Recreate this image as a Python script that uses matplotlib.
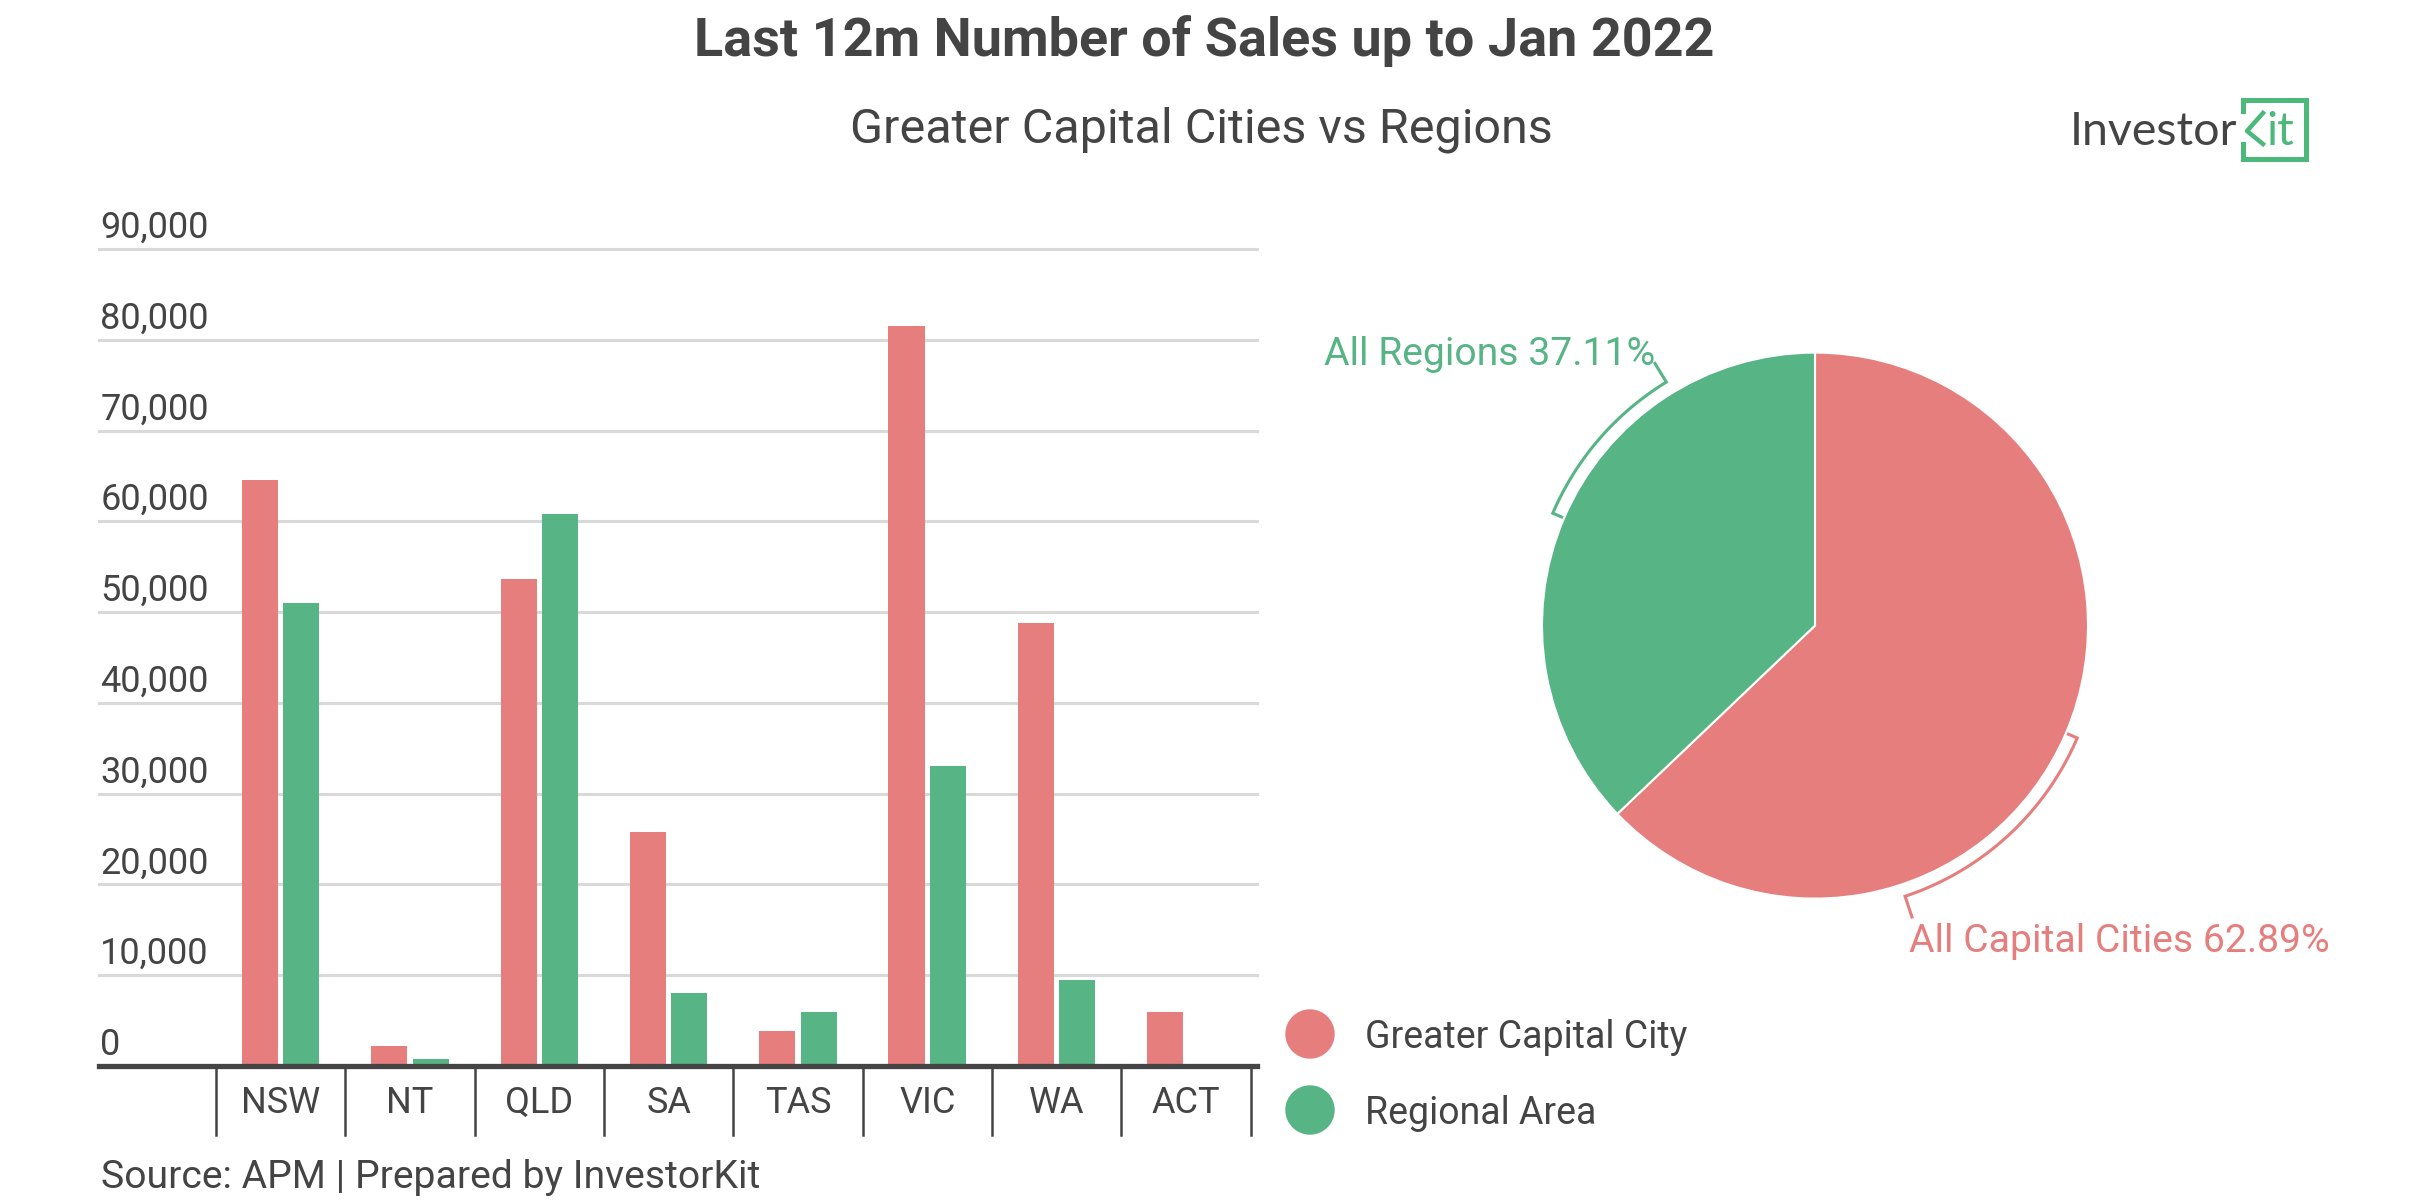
import matplotlib
matplotlib.use('Agg')
import matplotlib.pyplot as plt
import numpy as np

plt.rcParams['font.family'] = ['Roboto', 'DejaVu Sans']

##########################
##  Data               ##
##########################
states = ['NSW', 'NT', 'QLD', 'SA', 'TAS', 'VIC', 'WA', 'ACT']
capital_sales = [64600, 2200, 53700, 25800, 3900, 81500, 48800, 5900]
regional_sales = [51000, 770, 60800, 8000, 5950, 33000, 9500, 0]
y_ticks = [0, 10000, 20000, 30000, 40000, 50000, 60000, 70000, 80000, 90000]
series_names = ['Greater Capital City', 'Regional Area']
pie_names = ['All Capital Cities', 'All Regions']

RED = '#E67E7E'
GREEN = '#57B485'
LOGO_GREEN = '#4CB879'
TEXT = '#444444'
GRID = '#D9D9D9'

W, H = 2409, 1200
fig = plt.figure(figsize=(W / 100, H / 100), dpi=100)


def fx(px):
    return px / W


def fy(py):
    return 1 - py / H


# --- Titles ---
fig.text(0.5, fy(41), 'Last 12m Number of Sales up to Jan 2022', ha='center', va='center',
         fontsize=38.9, fontweight='bold', color=TEXT)
fig.text(fx(1201), fy(130), 'Greater Capital Cities vs Regions', ha='center', va='center',
         fontsize=34.9, color=TEXT)
fig.text(fx(101), fy(1177), 'Source: APM | Prepared by InvestorKit', ha='left', va='center',
         fontsize=28.2, color=TEXT)

# --- Bar chart ---
ax = fig.add_axes([fx(99), fy(1066), fx(1257 - 99), (1066 - 249) / H])
x = np.arange(len(states))
bw = 0.28
ax.bar(x - 0.16, capital_sales, bw, color=RED, zorder=2)
ax.bar(x + 0.16, regional_sales, bw, color=GREEN, zorder=2)
ax.set_xlim(-1.405, 7.55)
ax.set_ylim(0, 90000)
for s in ax.spines.values():
    s.set_visible(False)
ax.set_xticks([])
ax.set_yticks([])
for v in y_ticks[1:]:
    ax.axhline(v, color=GRID, lw=2.2, zorder=0, clip_on=False)
ax.axhline(0, color=TEXT, lw=3.8, zorder=3, clip_on=False)
for v in y_ticks:
    ax.annotate(f'{v:,}', xy=(0, v), xycoords=('axes fraction', 'data'),
                xytext=(1, 8), textcoords='offset points', ha='left', va='baseline',
                fontsize=26, color=TEXT)
for i, s in enumerate(states):
    ax.annotate(s, xy=(i, 0), xytext=(0, -34), textcoords='offset points',
                ha='center', va='baseline', fontsize=26, color=TEXT)
for b in np.arange(len(states) + 1) - 0.5:
    ax.plot([b, b], [0, -69 / 817], color=TEXT, lw=1.8, clip_on=False,
            transform=ax.get_xaxis_transform())

# --- Pie chart ---
cx, cy, rad = 1815, 625.6, 273
half = 1.5 * rad
pax = fig.add_axes([fx(cx - half), fy(cy + half), 2 * half / W, 2 * half / H])
totals = [sum(capital_sales), sum(regional_sales)]
shares = np.array(totals) / sum(totals)
pax.pie(totals, colors=[RED, GREEN], startangle=90, counterclock=False, radius=1,
        wedgeprops=dict(edgecolor='white', linewidth=1.5))
pax.set_xlim(-1.5, 1.5)
pax.set_ylim(-1.5, 1.5)
pax.set_aspect('equal')
pax.axis('off')

cap_mid = 90 - 180 * shares[0]
reg_mid = 90 - 360 * shares[0] - 180 * shares[1] + 360


def bracket(a_tick, a_lead, color):
    r_arc, r_in, r_out = 1.045, 1.01, 1.125
    ang = np.radians(np.linspace(a_tick, a_lead, 60))
    xs = [r_in * np.cos(ang[0])] + list(r_arc * np.cos(ang)) + [r_out * np.cos(ang[-1])]
    ys = [r_in * np.sin(ang[0])] + list(r_arc * np.sin(ang)) + [r_out * np.sin(ang[-1])]
    pax.plot(xs, ys, color=color, lw=2.2, clip_on=False, solid_joinstyle='miter')
    return xs[-1], ys[-1]


gx, gy = bracket(reg_mid, reg_mid - 35.4, GREEN)
pax.text(gx, gy - 0.005, f'{pie_names[1]} {shares[1] * 100:.2f}%', ha='right', va='baseline',
         fontsize=28.2, color=GREEN, clip_on=False)
rx, ry = bracket(cap_mid, cap_mid - 48.4, RED)
pax.text(rx - 0.01, ry - 0.022, f'{pie_names[0]} {shares[0] * 100:.2f}%', ha='left', va='top',
         fontsize=28.2, color=RED, clip_on=False)

# --- Overlay: legend and logo (pixel coordinates) ---
ov = fig.add_axes([0, 0, 1, 1])
ov.set_xlim(0, W)
ov.set_ylim(H, 0)
ov.axis('off')
for yy, col, name in [(1034, RED, series_names[0]), (1110, GREEN, series_names[1])]:
    ov.add_patch(plt.Circle((1310, yy), 24, color=col))
    ov.text(1365, yy + 3, name, ha='left', va='center', fontsize=27, color=TEXT)

ov.text(2070, 145, 'Investor', ha='left', va='baseline', fontsize=33.5, color=TEXT,
        family=['Lato', 'DejaVu Sans'])
ov.plot([2243, 2243, 2306, 2306, 2243, 2243], [111, 100, 100, 159, 159, 144],
        color=LOGO_GREEN, lw=3.6, solid_joinstyle='miter')
ov.plot([2263, 2247, 2263], [113, 131, 144], color=LOGO_GREEN, lw=3.2)
ov.text(2266, 145, 'it', ha='left', va='baseline', fontsize=33.5, color=LOGO_GREEN,
        family=['Lato', 'DejaVu Sans'])

fig.savefig('out.png', dpi=100)
